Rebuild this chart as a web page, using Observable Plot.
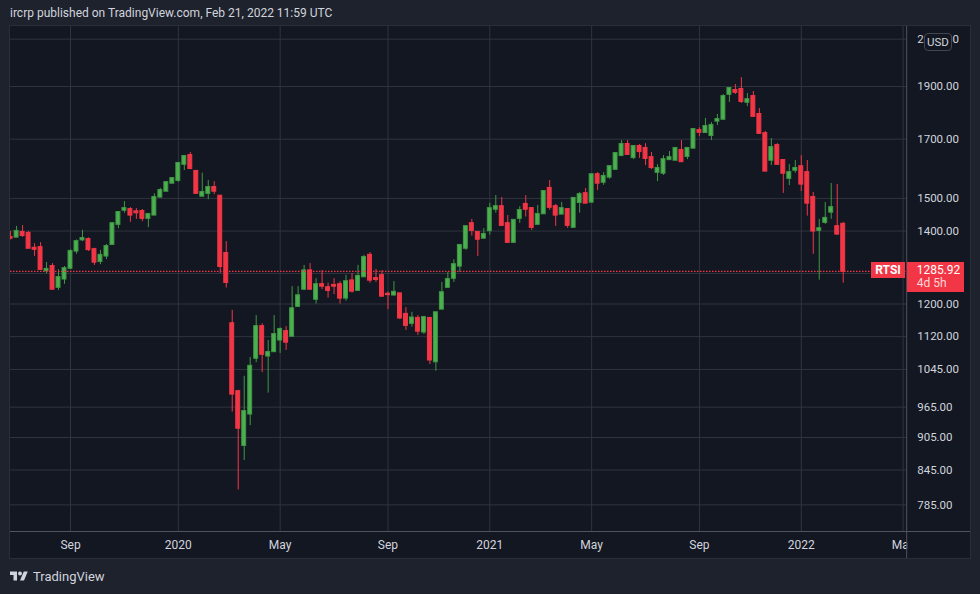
<!DOCTYPE html>
<html>
<head>
<meta charset="utf-8">
<script src="https://cdn.jsdelivr.net/npm/d3@7"></script>
<script src="https://cdn.jsdelivr.net/npm/@observablehq/plot@0.6"></script>
<style>
  html, body { margin: 0; padding: 0; background: #1e222d; }
  #wrap { position: relative; width: 980px; height: 594px; overflow: hidden; font-family: Roboto, "Noto Sans", sans-serif; color: #d1d4dc; }
  #hdr { position: absolute; left: 10px; top: 6px; font-size: 12px; line-height: 14px; white-space: nowrap; }
  #panel { position: absolute; left: 10px; top: 26px; width: 960px; height: 532px; background: #131722; }
  #panel svg { position: absolute; left: 0; top: 0; }
  #border { position: absolute; left: 9px; top: 25px; width: 960px; height: 532px; border: 1px solid #2a2e39; pointer-events: none; }
  .lbl { position: absolute; background: #f23645; color: #fff; font-size: 12px; box-sizing: border-box; }
  #usd { position: absolute; left: 924px; top: 33px; width: 28px; height: 18px; box-sizing: border-box; border: 1px solid #434651; border-radius: 4px; background: #131722; font-size: 11.5px; line-height: 16px; text-align: center; color: #d1d4dc; }
  #foot { position: absolute; left: 10px; top: 568px; height: 16px; display: flex; align-items: center; gap: 5px; font-size: 13px; color: #d1d4dc; }
</style>
</head>
<body>
<div id="wrap">
  <div id="hdr">ircrp published on TradingView.com, Feb 21, 2022 11:59 UTC</div>
  <div id="panel"></div>
  <div id="border"></div>
  <div id="foot">
    <svg width="18" height="10" viewBox="0 3 36 20"><path fill="#d1d4dc" d="M14 22H7V11H0V4h14v18ZM28 22h-8l7.5-18h8L28 22Z"/><circle fill="#d1d4dc" cx="20" cy="8" r="4"/></svg>
    <span>TradingView</span>
  </div>
</div>
<script>
// Weekly RTSI candles, first week starting Mon 24 Jun 2019
const firstWeek = "2019-06-24";
const open = [1381,1382,1396,1393,1350,1352,1287,1299,1243,1265,
  1294,1342,1374,1375,1346,1313,1328,1361,1420,1463,
  1465,1458,1459,1438,1448,1504,1523,1549,1558,1612,
  1642,1588,1507,1516,1535,1507,1335,1151,997,890,
  951,1070,1144,1075,1085,1112,1132,1121,1194,1238,
  1287,1212,1250,1242,1248,1250,1215,1260,1235,1271,
  1330,1266,1274,1225,1223,1226,1174,1152,1164,1131,
  1164,1062,1187,1243,1267,1300,1350,1422,1396,1379,
  1401,1466,1474,1422,1367,1438,1481,1468,1420,1452,
  1532,1474,1451,1465,1411,1487,1515,1488,1577,1552,
  1569,1595,1642,1681,1635,1674,1667,1635,1585,1582,
  1628,1626,1660,1639,1668,1731,1724,1713,1766,1773,
  1869,1884,1888,1838,1860,1791,1720,1626,1677,1625,
  1565,1592,1604,1584,1503,1402,1426,1457,1413,1420];
const high = [1399,1414,1416,1399,1363,1366,1310,1307,1290,1299,
  1346,1374,1402,1380,1350,1344,1361,1425,1456,1490,
  1471,1468,1465,1450,1515,1532,1554,1568,1615,1642,
  1653,1588,1582,1558,1554,1509,1369,1184,1000,1030,
  1072,1171,1151,1111,1171,1141,1144,1245,1245,1302,
  1307,1266,1288,1254,1266,1258,1275,1280,1302,1330,
  1338,1291,1288,1231,1258,1226,1191,1179,1171,1169,
  1166,1178,1256,1283,1318,1361,1413,1435,1396,1407,
  1484,1509,1503,1447,1432,1474,1509,1471,1478,1522,
  1558,1481,1487,1465,1500,1519,1532,1577,1584,1584,
  1608,1653,1695,1695,1674,1681,1684,1653,1611,1642,
  1656,1670,1695,1667,1735,1742,1776,1761,1791,1868,
  1896,1908,1936,1872,1880,1814,1728,1702,1684,1628,
  1611,1625,1642,1625,1519,1435,1487,1548,1545,1426];
const low = [1374,1382,1381,1350,1327,1291,1279,1238,1235,1251,
  1294,1333,1369,1341,1302,1304,1318,1361,1407,1454,
  1426,1435,1428,1410,1448,1504,1523,1549,1552,1591,
  1594,1516,1507,1496,1512,1280,1241,955,810,862,
  928,1060,1038,994,1083,1081,1088,1121,1194,1235,
  1238,1200,1237,1215,1224,1200,1207,1228,1235,1271,
  1254,1256,1217,1186,1220,1161,1135,1143,1123,1125,
  1056,1041,1187,1243,1256,1283,1344,1385,1327,1379,
  1388,1454,1414,1364,1364,1423,1442,1402,1420,1452,
  1463,1414,1451,1408,1411,1454,1485,1488,1525,1542,
  1562,1595,1639,1646,1628,1632,1608,1594,1554,1575,
  1625,1626,1618,1628,1668,1709,1724,1695,1750,1773,
  1837,1868,1833,1821,1781,1717,1589,1608,1612,1516,
  1541,1582,1522,1445,1333,1262,1420,1435,1388,1254];
const close = [1379,1399,1387,1350,1347,1291,1291,1238,1269,1293,
  1341,1369,1378,1346,1311,1330,1355,1422,1456,1468,
  1448,1455,1438,1450,1503,1525,1551,1564,1615,1639,
  1598,1516,1519,1535,1523,1299,1256,992,923,956,
  1052,1144,1079,1083,1125,1137,1107,1188,1221,1287,
  1238,1250,1246,1235,1246,1215,1258,1233,1272,1324,
  1262,1264,1220,1224,1230,1165,1147,1165,1133,1166,
  1066,1178,1229,1264,1304,1358,1413,1402,1376,1390,
  1468,1474,1417,1367,1432,1462,1466,1411,1450,1522,
  1472,1448,1468,1417,1500,1512,1485,1577,1549,1571,
  1604,1649,1681,1646,1674,1656,1632,1601,1598,1628,
  1635,1667,1621,1667,1735,1725,1746,1750,1772,1860,
  1892,1877,1841,1848,1784,1721,1589,1670,1612,1582,
  1584,1598,1546,1485,1400,1407,1438,1471,1391,1285.92];

// axis ticks (the 1280 gridline's label sits under the last-price label)
const timeTicks = ["2019-09-02","2020-01-06","2020-05-04","2020-09-07","2021-01-04","2021-05-03","2021-09-06","2022-01-03","2022-05-02"];
const gridPrices = [785, 845, 905, 965, 1045, 1120, 1200, 1280, 1400, 1500, 1700, 1900, 2100];
const labelPrices = [785, 845, 905, 965, 1045, 1120, 1200, 1400, 1500, 1700, 1900, 2100];
const monthNames = ["Jan","Feb","Mar","Apr","May","Jun","Jul","Aug","Sep","Oct","Nov","Dec"];
const symbol = "RTSI";
const countdown = "4d 5h";

const DAY = 864e5, WEEK = 7 * DAY;
const t0 = new Date(firstWeek + "T00:00:00Z").getTime();
const candles = open.map((o, i) => ({
  date: new Date(t0 + i * WEEK), open: o, high: high[i], low: low[i], close: close[i]
}));
const tickDates = timeTicks.map(s => new Date(s + "T00:00:00Z"));
const lastClose = close[close.length - 1];

const UP = "#4caf50", UPLINE = "#3f9844", DOWN = "#f23645";
const W = 960, H = 532, MR = 63.3, MB = 27;
const barPx = 5.99;
const xStart = new Date(t0 - (0.1 / barPx) * WEEK);
const xEnd = new Date(t0 + ((W - MR - 0.1) / barPx) * WEEK);

const chart = Plot.plot({
  width: W, height: H,
  marginLeft: 0, marginRight: MR, marginTop: 0, marginBottom: MB,
  style: { background: "transparent", color: "#d1d4dc", fontFamily: "Roboto, sans-serif", fontSize: "11.5px" },
  x: { type: "utc", domain: [xStart, xEnd] },
  y: { type: "log", domain: [742, 2157] },
  marks: [
    Plot.ruleX(tickDates, { stroke: "#30343f", strokeWidth: 1 }),
    Plot.ruleY(gridPrices, { stroke: "#30343f", strokeWidth: 1 }),
    Plot.axisX(tickDates, {
      tickSize: 0, tickPadding: 9,
      tickFormat: d => d.getUTCMonth() === 0 ? String(d.getUTCFullYear()) : monthNames[d.getUTCMonth()],
      fill: "#d1d4dc", fontSize: 12
    }),
    Plot.axisY(labelPrices, {
      anchor: "right", tickSize: 0, tickPadding: 10,
      tickFormat: d => d.toFixed(2), fill: "#d1d4dc"
    }),
    Plot.ruleX(candles, {
      x: "date", y1: "low", y2: "high",
      stroke: d => d.close >= d.open ? UPLINE : DOWN, strokeWidth: 1
    }),
    Plot.rect(candles, {
      x1: d => new Date(+d.date - 2.3 * DAY), x2: d => new Date(+d.date + 2.3 * DAY),
      y1: "open", y2: "close",
      fill: d => d.close >= d.open ? UP : DOWN,
      stroke: d => d.close >= d.open ? UPLINE : DOWN, strokeWidth: 1,
      insetTop: -0.5, insetBottom: -0.5
    }),
    Plot.ruleY([lastClose], { stroke: DOWN, strokeWidth: 1.3, strokeDasharray: "1.5,1.5" })
  ]
});

const panel = document.getElementById("panel");
panel.appendChild(chart);

// axis separators and clipping of x labels at the price axis
const svg = d3.select(chart);
const plotRight = W - MR, plotBottom = H - MB;
const defs = svg.append("defs");
defs.append("clipPath").attr("id", "xclip").append("rect")
  .attr("x", 0).attr("y", 0).attr("width", plotRight).attr("height", H);
svg.selectAll('g[aria-label="x-axis tick label"]').attr("clip-path", "url(#xclip)");
svg.append("line").attr("x1", plotRight).attr("x2", plotRight).attr("y1", 0).attr("y2", H)
  .attr("stroke", "#50535e").attr("stroke-width", 1);
svg.append("line").attr("x1", 0).attr("x2", W).attr("y1", plotBottom + 0.5).attr("y2", plotBottom + 0.5)
  .attr("stroke", "#50535e").attr("stroke-width", 1);

// last price labels
const wrap = document.getElementById("wrap");
const yPx = 26 + chart.scale("y").apply(lastClose);
const sym = document.createElement("div");
sym.className = "lbl";
sym.textContent = symbol;
Object.assign(sym.style, { left: "871px", top: (yPx - 8.4) + "px", width: "34px", height: "16px",
  lineHeight: "16px", textAlign: "center", fontWeight: "bold" });
wrap.appendChild(sym);
const pr = document.createElement("div");
pr.className = "lbl";
Object.assign(pr.style, { left: (10 + plotRight) + "px", top: (yPx - 8.4) + "px", width: "57.6px", height: "30px",
  paddingLeft: "10px", lineHeight: "13px", paddingTop: "2px" });
pr.innerHTML = `<div>${lastClose.toFixed(2)}</div><div style="color:rgba(255,255,255,0.8)">${countdown}</div>`;
wrap.appendChild(pr);
const usd = document.createElement("div");
usd.id = "usd";
usd.textContent = "USD";
wrap.appendChild(usd);
</script>
</body>
</html>
